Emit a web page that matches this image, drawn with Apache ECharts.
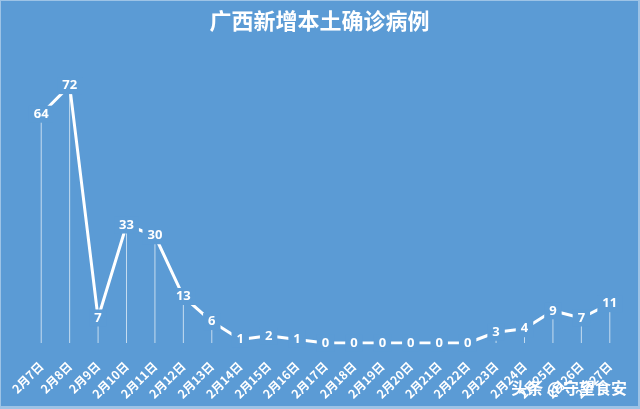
<!DOCTYPE html>
<html>
<head>
<meta charset="utf-8">
<script src="https://cdn.jsdelivr.net/npm/echarts@6/dist/echarts.min.js"></script>
<style>
    html, body { margin: 0; padding: 0; background: #9dc3e6; }
    #main { position: absolute; left: 1px; top: 1px; width: 637px; height: 405px; }
</style>
</head>
<body>
<div id="main"></div>
<script>
    // 广西新增本土确诊病例
    var days = ['2月7日', '2月8日', '2月9日', '2月10日', '2月11日', '2月12日', '2月13日',
        '2月14日', '2月15日', '2月16日', '2月17日', '2月18日', '2月19日', '2月20日',
        '2月21日', '2月22日', '2月23日', '2月24日', '2月25日', '2月26日', '2月27日'];
    var cases = [64, 72, 7, 33, 30, 13, 6, 1, 2, 1, 0, 0, 0, 0, 0, 0, 3, 4, 9, 7, 11];

    var bg = '#5b9bd5';
    var chart = echarts.init(document.getElementById('main'));

    chart.setOption({
        backgroundColor: bg,
        animation: false,
        title: {
            text: '广西新增本土确诊病例',
            left: 'center',
            top: 4,
            textStyle: {
                color: '#fff',
                fontSize: 22,
                fontWeight: 'bold',
                fontFamily: 'Noto Sans CJK SC'
            }
        },
        grid: {
            left: 26,
            right: 14,
            top: 56,
            bottom: 63
        },
        xAxis: {
            type: 'category',
            data: days,
            boundaryGap: true,
            axisLine: { show: false },
            axisTick: { show: false },
            axisLabel: {
                rotate: 45,
                margin: 21,
                interval: 0,
                color: '#fff',
                fontSize: 12,
                fontWeight: 'bold',
                fontFamily: 'Noto Sans CJK SC'
            }
        },
        yAxis: {
            type: 'value',
            min: 0,
            max: 80,
            show: false
        },
        series: [{
            // drop lines
            type: 'bar',
            data: cases,
            barWidth: 1,
            silent: true,
            itemStyle: { color: 'rgba(255,255,255,0.65)' },
            z: 1
        }, {
            type: 'line',
            data: cases,
            symbol: 'circle',
            symbolSize: 1,
            showSymbol: true,
            itemStyle: { color: '#fff' },
            lineStyle: { color: '#fff', width: 3 },
            label: {
                show: true,
                position: 'inside',
                color: '#fff',
                fontSize: 13,
                fontWeight: 'bold',
                fontFamily: 'Open Sans',
                backgroundColor: bg,
                padding: [2, 5]
            },
            z: 3
        }],
        graphic: [{
            type: 'text',
            right: 11,
            bottom: 10,
            style: {
                text: '头条 @守望食安',
                fill: '#fff',
                font: 'bold 16px "Noto Sans CJK SC"',
                shadowColor: 'rgba(0,0,0,0.85)',
                shadowBlur: 2,
                shadowOffsetX: 1,
                shadowOffsetY: 1
            },
            z: 10
        }]
    });
</script>
</body>
</html>
